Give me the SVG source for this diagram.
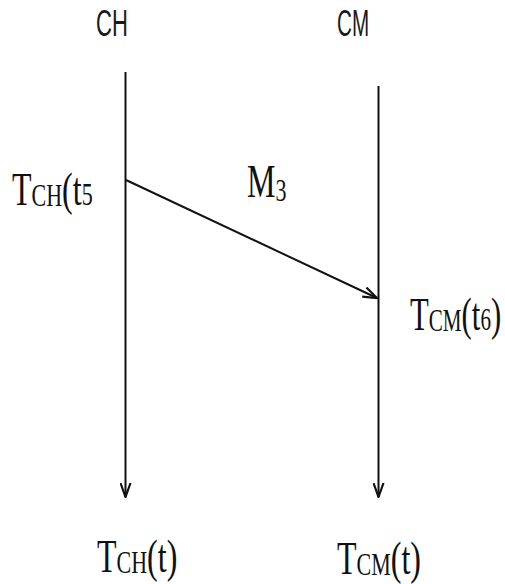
<svg xmlns="http://www.w3.org/2000/svg" width="505" height="584" viewBox="0 0 505 584">
<defs>
<style>
.lbl{font-family:"Liberation Sans",Arial,sans-serif;font-size:24px;fill:#1a1a1a}
.tm{font-family:"Liberation Serif","Times New Roman",serif;font-size:32px;fill:#111}
.sub{font-size:22px}
.ln{stroke:#111;stroke-width:2;fill:none}
</style>
<marker id="ah" viewBox="0 0 16 12" refX="15" refY="6" markerWidth="16" markerHeight="12" markerUnits="userSpaceOnUse" orient="auto">
<path d="M1,1 L15,6 L1,11" fill="none" stroke="#111" stroke-width="2.2"/>
</marker>
</defs>
<rect width="505" height="584" fill="#fff"/>
<g id="CH">
<text class="lbl" transform="translate(96,36) scale(0.92,1.55)">CH</text>
</g>
<g id="CM">
<text class="lbl" transform="translate(337,36) scale(0.86,1.55)">CM</text>
</g>
<g id="connectors">
<line class="ln" x1="125.5" y1="72" x2="125.5" y2="497" marker-end="url(#ah)"/>
<line class="ln" x1="378.5" y1="86" x2="378.5" y2="497" marker-end="url(#ah)"/>
<line class="ln" x1="126" y1="180" x2="377" y2="298" marker-end="url(#ah)"/>
</g>
<g id="label-tch5">
<text class="tm" transform="translate(12,205) scale(1,1.45)">T<tspan class="sub" dy="1">CH</tspan><tspan dy="-1">(t</tspan><tspan class="sub">5</tspan></text>
</g>
<g id="label-m3">
<text class="tm" transform="translate(247,197) scale(1,1.45)">M<tspan class="sub" dy="3">3</tspan></text>
</g>
<g id="label-tcm6">
<text class="tm" transform="translate(410,330) scale(0.96,1.45)">T<tspan class="sub" dy="1">CM</tspan><tspan dy="-1">(t</tspan><tspan class="sub">6</tspan><tspan>)</tspan></text>
</g>
<g id="label-tch">
<text class="tm" transform="translate(97,572) scale(1,1.45)">T<tspan class="sub" dy="1">CH</tspan><tspan dy="-1">(t)</tspan></text>
</g>
<g id="label-tcm">
<text class="tm" transform="translate(337,574) scale(1,1.45)">T<tspan class="sub" dy="1">CM</tspan><tspan dy="-1">(t)</tspan></text>
</g>
</svg>
